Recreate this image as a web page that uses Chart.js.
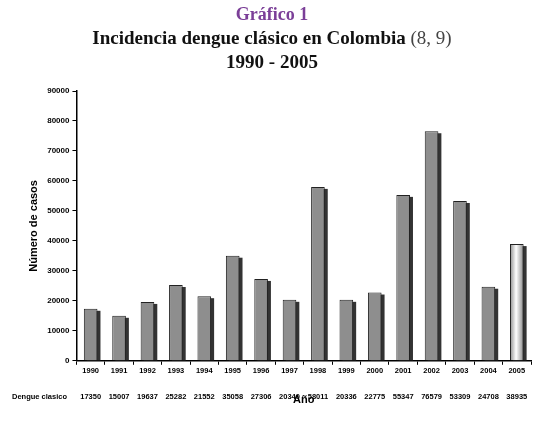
<!DOCTYPE html>
<html><head><meta charset="utf-8">
<script src="https://cdn.jsdelivr.net/npm/chart.js@4"></script>
<style>
body{margin:0;background:#fff;width:544px;height:422px;overflow:hidden;position:relative}
#t{position:absolute;top:2px;left:0;width:544px;text-align:center;font-family:"Liberation Serif",serif;line-height:24px}
#t .a{color:#7b3f98;font-weight:bold;font-size:18px}
#t .b{font-weight:bold;font-size:19px;color:#111}
#t .n{font-weight:normal;color:#444}
canvas{position:absolute;top:0;left:0}
</style></head><body>
<canvas id="c" width="544" height="422"></canvas>
<div id="t"><div class="a">Gráfico 1</div><div class="b">Incidencia dengue clásico en Colombia <span class="n">(8, 9)</span></div><div class="b">1990 - 2005</div></div>
<script>
const years=['1990','1991','1992','1993','1994','1995','1996','1997','1998','1999','2000','2001','2002','2003','2004','2005'];
const cases=[17350,15007,19637,25282,21552,35058,27306,20340,58011,20336,22775,55347,76579,53309,24708,38935];
const rowLabel='Dengue clasico';
const f=(s)=>'bold '+s+'px "Liberation Sans", Arial, sans-serif';
const shadow={id:'sh',beforeDatasetsDraw(ch){const c=ch.ctx,m=ch.getDatasetMeta(0);c.save();c.fillStyle='#333';
 m.data.forEach(e=>{const w=e.width;c.fillRect(e.x-w/2+3,e.y+2,w,e.base-e.y-2);
  const g=c.createLinearGradient(e.x-w/2,0,e.x+w/2,0);g.addColorStop(0,'#8e8e8e');g.addColorStop(0.45,'#fff');g.addColorStop(1,'#8a8a8a');e.options.backgroundColor=g;});c.restore();},
 afterDraw(ch){const c=ch.ctx,x=ch.scales.x;c.save();c.font=f(7.5);c.fillStyle='#000';c.textAlign='center';c.textBaseline='middle';
 cases.forEach((v,i)=>c.fillText(String(v),x.getPixelForValue(i),397));c.textAlign='left';c.fillText(rowLabel,12,397);c.restore();}};
new Chart(document.getElementById('c'),{type:'bar',
data:{labels:years,datasets:[{data:cases,borderColor:'#222',borderWidth:1,barPercentage:0.48,categoryPercentage:1,backgroundColor:'#ddd'}]},
options:{responsive:false,animation:false,layout:{padding:{top:91,right:13,bottom:11,left:23}},
plugins:{legend:{display:false},tooltip:{enabled:false}},
scales:{y:{min:0,max:90000,ticks:{stepSize:10000,callback:v=>String(v),font:{size:8,weight:'bold',family:'"Liberation Sans", Arial'},color:'#000'},
 grid:{drawOnChartArea:false,tickLength:4,color:'#000'},border:{color:'#000',width:1.5},
 title:{display:true,text:'Número de casos',font:{size:11,weight:'bold',family:'"Liberation Sans", Arial'},color:'#000'}},
 x:{ticks:{font:{size:7.5,weight:'bold',family:'"Liberation Sans", Arial'},color:'#000',padding:2},
 grid:{drawOnChartArea:false,offset:true,tickLength:4,color:'#000'},border:{color:'#000',width:1.5},
 title:{display:true,text:'Año',font:{size:11,weight:'bold',family:'"Liberation Sans", Arial'},color:'#000',padding:{top:16}}}}},
plugins:[shadow]});
</script></body></html>
